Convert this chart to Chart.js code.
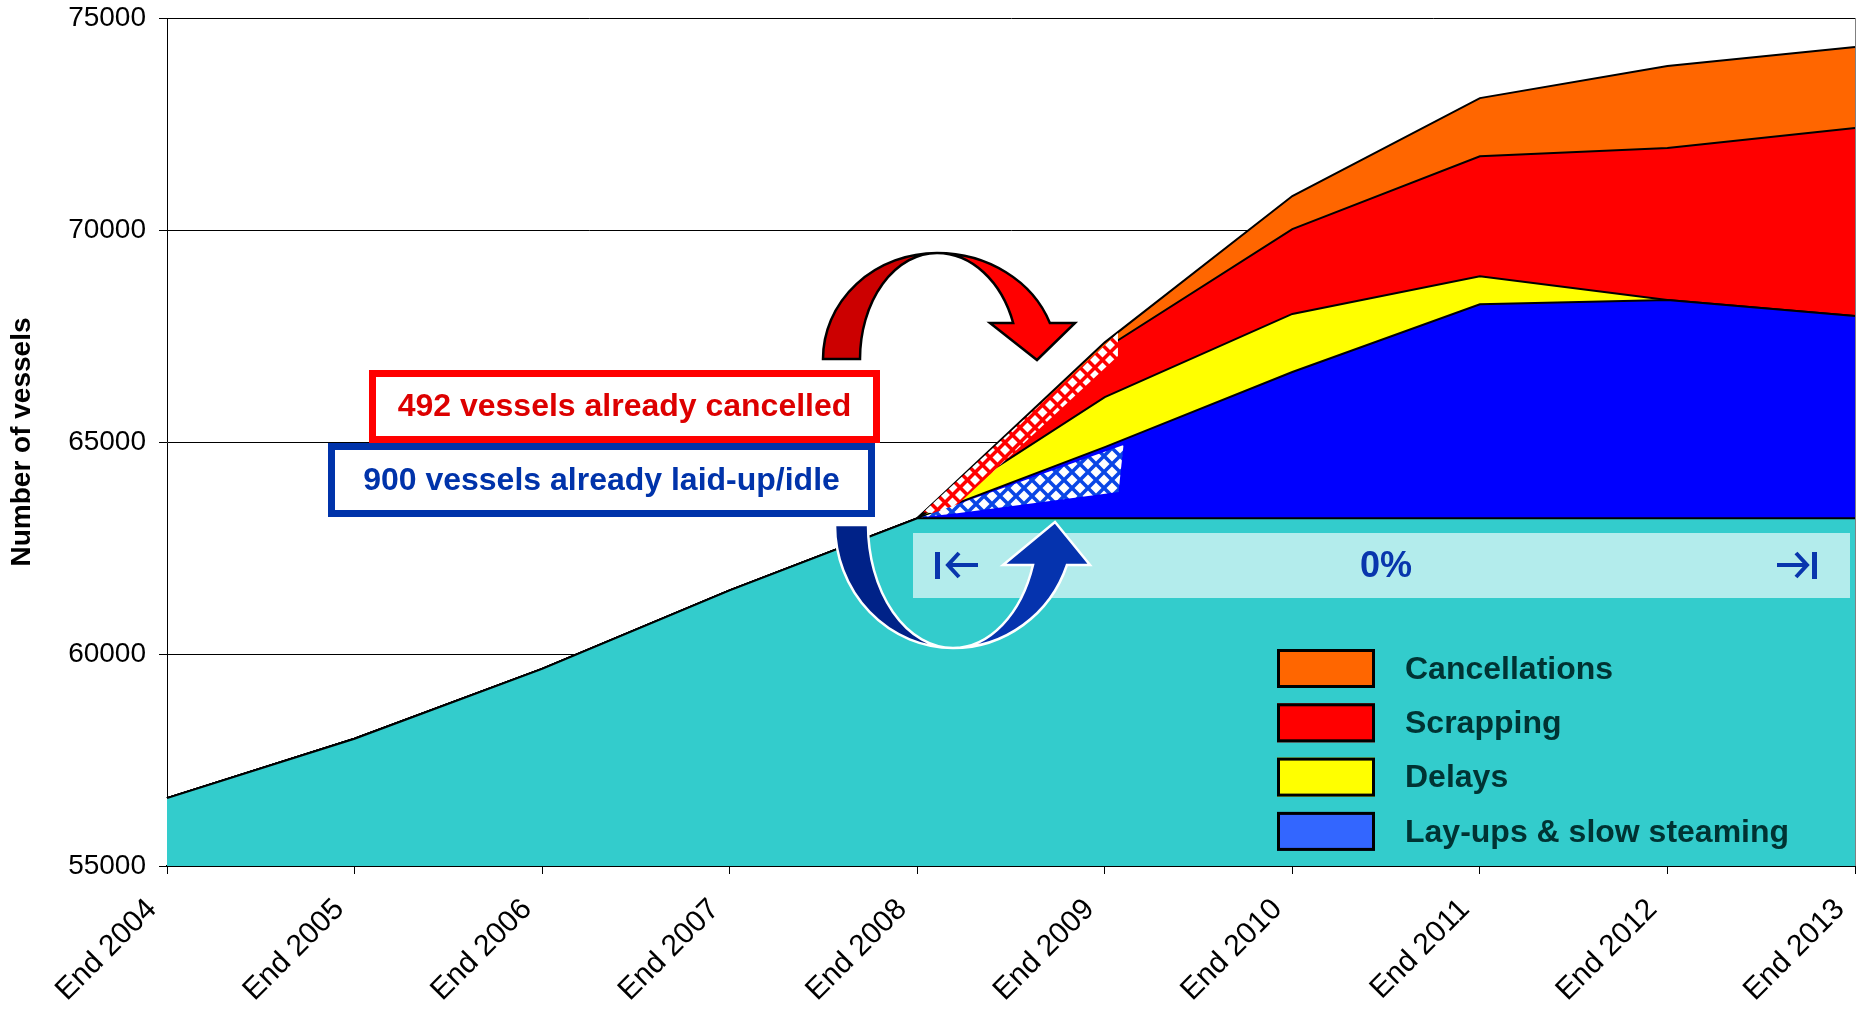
<!DOCTYPE html>
<html>
<head>
<meta charset="utf-8">
<script src="https://cdn.jsdelivr.net/npm/chart.js@4.4.1/dist/chart.umd.min.js"></script>
<style>
  html, body { margin: 0; padding: 0; background: #fff; }
</style>
</head>
<body>
<canvas id="chart" width="1858" height="1024"></canvas>
<script>
const years = ['End 2004', 'End 2005', 'End 2006', 'End 2007', 'End 2008',
               'End 2009', 'End 2010', 'End 2011', 'End 2012', 'End 2013'];
// fleet up to end 2008, then held flat; the layers below are stacked on top of it
const baseFleet     = [56600, 58000, 59650, 61500, 63200, 63200, 63200, 63200, 63200, 63200];
const layups        = [0, 0, 0, 0, 0, 1680, 3450, 5050, 5150, 4770];
const delays        = [0, 0, 0, 0, 0, 1180, 1370, 660, 0, 0];
const scrapping     = [0, 0, 0, 0, 0, 1140, 2000, 2830, 3585, 4435];
const cancellations = [0, 0, 0, 0, 0, 150, 780, 1370, 1935, 1910];
const yMin = 55000, yMax = 75000, yStep = 5000;

const FONT = "'Liberation Sans', Arial, sans-serif";
Chart.defaults.font.family = FONT;

function diamondPattern(ctx, bg, size, d) {
  const c = document.createElement('canvas');
  c.width = c.height = size;
  const g = c.getContext('2d');
  g.fillStyle = bg;
  g.fillRect(0, 0, size, size);
  g.fillStyle = '#fff';
  const dia = (cx, cy) => {
    g.beginPath();
    g.moveTo(cx, cy - d); g.lineTo(cx + d, cy); g.lineTo(cx, cy + d); g.lineTo(cx - d, cy);
    g.closePath(); g.fill();
  };
  dia(size / 2, size / 2); dia(0, 0); dia(size, 0); dia(0, size); dia(size, size);
  return ctx.createPattern(c, 'repeat');
}

function drawBox(ctx, x, y, w, h, color, text, textColor, size) {
  ctx.fillStyle = '#fff';
  ctx.fillRect(x, y, w, h);
  ctx.lineWidth = 7;
  ctx.strokeStyle = color;
  ctx.strokeRect(x + 3.5, y + 3.5, w - 7, h - 7);
  ctx.fillStyle = textColor;
  ctx.font = 'bold ' + size + 'px ' + FONT;
  ctx.textAlign = 'center';
  ctx.textBaseline = 'middle';
  ctx.fillText(text, x + w / 2, y + h / 2 + 1);
}

const decorations = {
  id: 'decorations',
  afterDatasetsDraw(chart) {
    const ctx = chart.ctx;
    const ca = chart.chartArea;
    ctx.save();

    // checkered overlays following the 2008-2009 segments
    const tot = chart.getDatasetMeta(4).data;
    const lay = chart.getDatasetMeta(1).data;
    const a = tot[4], b = tot[5];
    const t = 1.07;
    const px = a.x + (b.x - a.x) * t, py = a.y + (b.y - a.y) * t;
    ctx.fillStyle = diamondPattern(ctx, '#FF0000', 15, 5);
    ctx.beginPath();
    ctx.moveTo(a.x + 6, a.y - 6);
    ctx.lineTo(px, py + 3);
    ctx.lineTo(px, py + 26);
    ctx.lineTo(a.x + 30, a.y - 4);
    ctx.closePath();
    ctx.fill();

    const la = lay[4], lb = lay[5];
    const t2 = 1.1;
    const qx = la.x + (lb.x - la.x) * t2, qy = la.y + (lb.y - la.y) * t2;
    ctx.fillStyle = diamondPattern(ctx, '#0A46E6', 16, 5.5);
    ctx.beginPath();
    ctx.moveTo(la.x + 4, la.y - 1);
    ctx.lineTo(qx, qy + 5);
    ctx.lineTo(qx - 5, qy + 52);
    ctx.lineTo(la.x + 40, la.y - 5);
    ctx.closePath();
    ctx.fill();

    // 0% band
    ctx.fillStyle = '#B3ECEC';
    ctx.fillRect(913, 533, 937, 65);
    ctx.fillStyle = '#0836AD';
    ctx.strokeStyle = '#0836AD';
    ctx.font = 'bold 36px ' + FONT;
    ctx.textAlign = 'center';
    ctx.textBaseline = 'middle';
    ctx.fillText('0%', 1386, 567);
    ctx.lineWidth = 4;
    ctx.fillRect(935, 552, 5, 27);
    ctx.beginPath();
    ctx.moveTo(948, 565); ctx.lineTo(978, 565);
    ctx.moveTo(959, 553); ctx.lineTo(948, 565); ctx.lineTo(959, 577);
    ctx.stroke();
    ctx.fillRect(1812, 552, 5, 27);
    ctx.beginPath();
    ctx.moveTo(1777, 565); ctx.lineTo(1807, 565);
    ctx.moveTo(1796, 553); ctx.lineTo(1807, 565); ctx.lineTo(1796, 577);
    ctx.stroke();

    // blue U-turn arrow
    const bc = { x: 953, y: 525 };
    ctx.lineWidth = 2.5;
    ctx.strokeStyle = '#fff';
    ctx.fillStyle = '#002288';
    ctx.beginPath();
    ctx.ellipse(bc.x, bc.y, 118, 123, 0, Math.PI, Math.PI / 2, true);
    ctx.ellipse(bc.x, bc.y, 85, 123, 0, Math.PI / 2, Math.PI, false);
    ctx.closePath();
    ctx.fill(); ctx.stroke();
    const th = Math.asin((565 - bc.y) / 123);
    ctx.fillStyle = '#0533AE';
    ctx.beginPath();
    ctx.ellipse(bc.x, bc.y, 120.5, 123, 0, Math.PI / 2, th, true);
    ctx.lineTo(1090, 565);
    ctx.lineTo(1055, 522);
    ctx.lineTo(1003, 565);
    ctx.lineTo(bc.x + 84.6 * Math.cos(th), 565);
    ctx.ellipse(bc.x, bc.y, 84.6, 123, 0, th, Math.PI / 2, false);
    ctx.closePath();
    ctx.fill(); ctx.stroke();

    // red arch arrow
    const rc = { x: 937, y: 359 };
    ctx.strokeStyle = '#000';
    ctx.lineWidth = 2.5;
    ctx.fillStyle = '#CC0000';
    ctx.beginPath();
    ctx.ellipse(rc.x, rc.y, 114, 106, 0, Math.PI, Math.PI * 1.5, false);
    ctx.ellipse(rc.x, rc.y, 77, 106, 0, Math.PI * 1.5, Math.PI, true);
    ctx.closePath();
    ctx.fill(); ctx.stroke();
    const rt = 2 * Math.PI - Math.asin((rc.y - 323) / 106);
    ctx.fillStyle = '#FF0000';
    ctx.beginPath();
    ctx.ellipse(rc.x, rc.y, 120, 106, 0, Math.PI * 1.5, rt, false);
    ctx.lineTo(1075, 323);
    ctx.lineTo(1037, 360);
    ctx.lineTo(990, 323);
    ctx.lineTo(rc.x + 81 * Math.cos(rt), 323);
    ctx.ellipse(rc.x, rc.y, 81, 106, 0, rt, Math.PI * 1.5, true);
    ctx.closePath();
    ctx.fill(); ctx.stroke();

    // call-out boxes
    drawBox(ctx, 328, 443, 547, 74, '#0033AA', '900 vessels already laid-up/idle', '#0033AA', 32);
    drawBox(ctx, 369, 370, 511, 73, '#FF0000', '492 vessels already cancelled', '#DD0000', 32);

    // legend (top layer first)
    const sets = chart.data.datasets.slice(1).reverse();
    sets.forEach((ds, i) => {
      const y = 649 + i * 54.3;
      ctx.fillStyle = ds.legendColor || ds.backgroundColor;
      ctx.fillRect(1277, y, 98, 39);
      ctx.lineWidth = 3;
      ctx.strokeStyle = '#000';
      ctx.strokeRect(1278.5, y + 1.5, 95, 36);
      ctx.fillStyle = '#003333';
      ctx.font = 'bold 32px ' + FONT;
      ctx.textAlign = 'left';
      ctx.textBaseline = 'middle';
      ctx.fillText(ds.label, 1405, y + 21);
    });

    // plot frame on the right
    ctx.strokeStyle = '#808080';
    ctx.lineWidth = 1;
    ctx.beginPath();
    ctx.moveTo(ca.right + 0.5, ca.top);
    ctx.lineTo(ca.right + 0.5, ca.bottom);
    ctx.stroke();
    ctx.restore();
  }
};

const datasets = [
  { label: 'Fleet', data: baseFleet, backgroundColor: '#33CCCC', fill: 'origin' },
  { label: 'Lay-ups & slow steaming', data: layups, backgroundColor: '#0000FF', fill: '-1', legendColor: '#3366FF' },
  { label: 'Delays', data: delays, backgroundColor: '#FFFF00', fill: '-1' },
  { label: 'Scrapping', data: scrapping, backgroundColor: '#FF0000', fill: '-1' },
  { label: 'Cancellations', data: cancellations, backgroundColor: '#FF6600', fill: '-1' }
].map(d => Object.assign({ borderColor: '#000', borderWidth: 2, pointRadius: 0, tension: 0 }, d));

new Chart(document.getElementById('chart'), {
  type: 'line',
  data: { labels: years, datasets: datasets },
  options: {
    responsive: false,
    animation: false,
    layout: { padding: { top: 18, right: 3, left: 0, bottom: 0 } },
    plugins: { legend: { display: false }, tooltip: { enabled: false } },
    scales: {
      x: {
        grid: { display: true, drawOnChartArea: false, tickLength: 8, color: '#000' },
        border: { color: '#000', width: 2 },
        ticks: { font: { size: 30 }, color: '#000', minRotation: 45, maxRotation: 45, padding: 18, labelOffset: -15, autoSkip: false },
        afterFit: s => { s.height = 158; s.paddingLeft = 0; s.paddingRight = 0; }
      },
      y: {
        stacked: true,
        min: yMin,
        max: yMax,
        grid: { color: '#000', lineWidth: 1, tickLength: 8 },
        border: { color: '#000', width: 1 },
        ticks: { stepSize: yStep, font: { size: 28 }, color: '#000', padding: 13, callback: v => String(v) },
        title: { display: true, text: 'Number of vessels', font: { size: 28, weight: 'bold' }, color: '#000', padding: { top: 5, bottom: 0 } },
        afterFit: s => { s.width = 167; s.paddingTop = 0; s.paddingBottom = 0; }
      }
    }
  },
  plugins: [decorations]
});
</script>
</body>
</html>
